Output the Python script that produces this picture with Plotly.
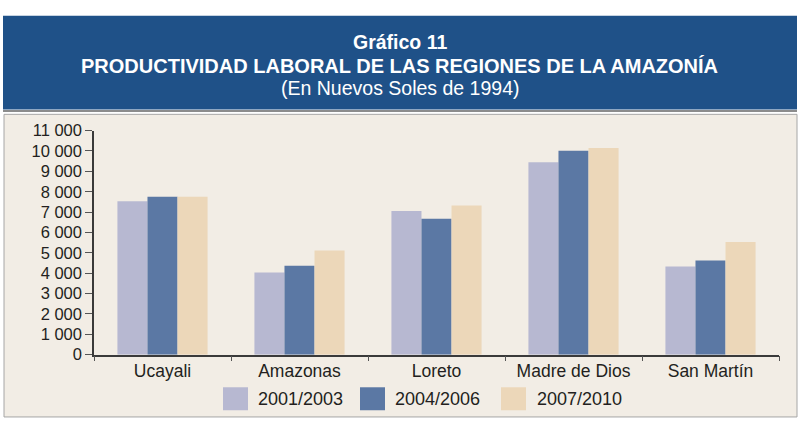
import plotly.graph_objects as go

regions = ["Ucayali", "Amazonas", "Loreto", "Madre de Dios", "San Martín"]
series_names = ["2001/2003", "2004/2006", "2007/2010"]
v_2001_2003 = [7530, 4040, 7050, 9450, 4330]
v_2004_2006 = [7750, 4370, 6680, 10010, 4620]
v_2007_2010 = [7750, 5120, 7330, 10150, 5530]
y_ticks = [0, 1000, 2000, 3000, 4000, 5000, 6000, 7000, 8000, 9000, 10000, 11000]

colors = ["#B7B8D1", "#5B78A4", "#ECD7B9"]
values = [v_2001_2003, v_2004_2006, v_2007_2010]

W, H = 799, 425
BG = "#F2EDE5"
FONT = "Liberation Sans, Arial, sans-serif"
TXT = "#231F20"

fig = go.Figure()
for name, vals, c in zip(series_names, values, colors):
    fig.add_trace(go.Bar(x=regions, y=vals, name=name, marker=dict(color=c, line=dict(width=0)),
                         showlegend=False))

def px_x(p):
    return p / W

def px_y(p):
    return 1 - p / H

shapes = [
    # chart panel
    dict(type="rect", xref="paper", yref="paper", x0=px_x(4), x1=px_x(797), y0=px_y(426), y1=px_y(110),
         fillcolor=BG, line=dict(color="#A6A6A6", width=1), layer="below"),
    # banner
    dict(type="rect", xref="paper", yref="paper", x0=px_x(3), x1=px_x(797), y0=px_y(105), y1=px_y(7),
         fillcolor="#1F5188", line=dict(width=0), layer="below"),
    dict(type="line", xref="paper", yref="paper", x0=px_x(3), x1=px_x(797), y0=px_y(106.5), y1=px_y(106.5),
         line=dict(color="#8C8C8C", width=2)),
]

annotations = [
    dict(text="<b>Gráfico 11</b>", x=0.5, y=px_y(34), xref="paper", yref="paper", showarrow=False,
         font=dict(family=FONT, size=19.5, color="white"), xanchor="center", yanchor="middle"),
    dict(text="<b>PRODUCTIVIDAD LABORAL DE LAS REGIONES DE LA AMAZONÍA</b>", x=0.5, y=px_y(60), xref="paper",
         yref="paper", showarrow=False, font=dict(family=FONT, size=20, color="white"),
         xanchor="center", yanchor="middle"),
    dict(text="(En Nuevos Soles de 1994)", x=0.5, y=px_y(82), xref="paper", yref="paper", showarrow=False,
         font=dict(family=FONT, size=19.5, color="white"), xanchor="center", yanchor="middle"),
]

# manual legend
leg_sq = [(223, 248), (360, 385), (501, 526)]
leg_tx = [256, 393, 535]
for (a, b), t, name, c in zip(leg_sq, leg_tx, series_names, colors):
    shapes.append(dict(type="rect", xref="paper", yref="paper", x0=px_x(a), x1=px_x(b),
                       y0=px_y(419), y1=px_y(395), fillcolor=c, line=dict(width=0)))
    annotations.append(dict(text=name, x=px_x(t), y=px_y(407), xref="paper", yref="paper", showarrow=False,
                            xanchor="left", yanchor="middle", font=dict(family=FONT, size=18, color=TXT)))

fig.update_layout(
    width=W, height=H,
    margin=dict(l=0, r=0, t=0, b=0),
    paper_bgcolor="white",
    plot_bgcolor=BG,
    barmode="group",
    bargap=0.342,
    bargroupgap=0,
    separators=", ",
    font=dict(family=FONT, size=16, color=TXT),
    shapes=shapes,
    annotations=annotations,
    xaxis=dict(domain=[px_x(94), px_x(779)], showline=True, linecolor="#3A3A3A", linewidth=1.5,
               ticks="outside", tickson="boundaries", ticklen=5, tickcolor="#555555",
               tickfont=dict(family=FONT, size=17.5, color=TXT), showgrid=False),
    yaxis=dict(domain=[px_y(361), px_y(127)], range=[0, 11000], tickvals=y_ticks, tickformat=",d",
               showline=True, linecolor="#3A3A3A", linewidth=1.5, ticks="outside", ticklen=7,
               tickcolor="#555555", showgrid=False, zeroline=False,
               tickfont=dict(family=FONT, size=16.5, color=TXT)),
)

post = (
    "document.documentElement.style.margin='0';"
    "document.documentElement.style.overflow='hidden';"
    "document.body.style.margin='0';"
    "document.body.style.overflow='hidden';"
    "var d=document.querySelector('.plotly-graph-div');"
    "d.style.position='fixed';d.style.top='0px';d.style.left='0px';"
)
fig.write_html("out.html", config={"displayModeBar": False}, post_script=post)
